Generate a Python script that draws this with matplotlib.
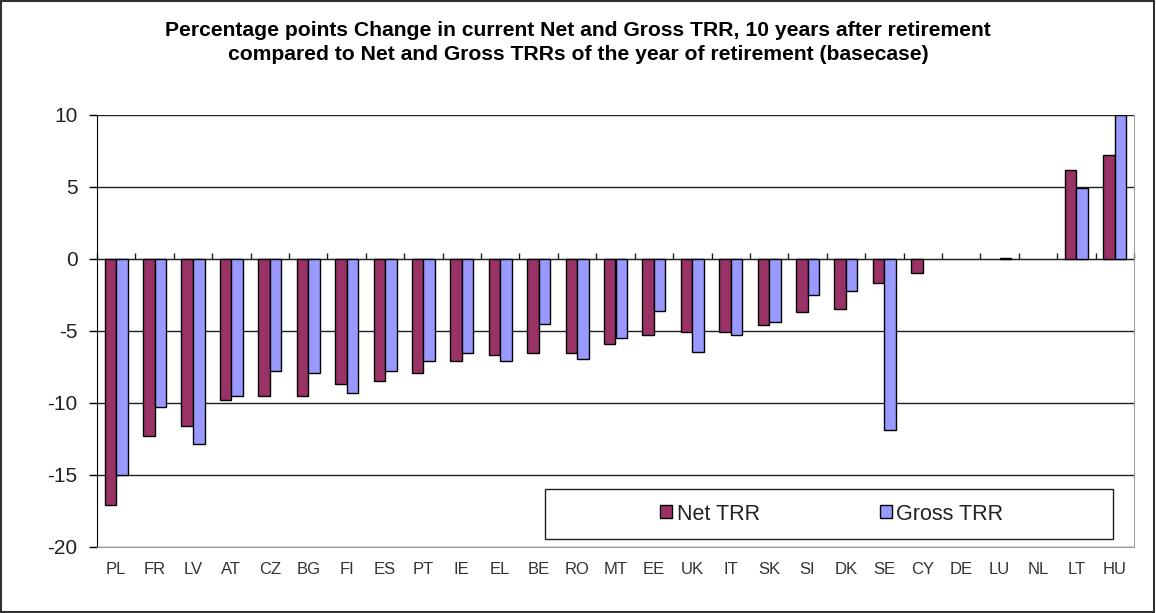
import numpy as np
import matplotlib
matplotlib.use("Agg")
import matplotlib.pyplot as plt
from matplotlib.patches import Rectangle, Patch

plt.rcParams['font.family'] = ['Liberation Sans', 'DejaVu Sans']
plt.rcParams['axes.unicode_minus'] = False

countries = ['PL', 'FR', 'LV', 'AT', 'CZ', 'BG', 'FI', 'ES', 'PT', 'IE', 'EL', 'BE', 'RO', 'MT',
             'EE', 'UK', 'IT', 'SK', 'SI', 'DK', 'SE', 'CY', 'DE', 'LU', 'NL', 'LT', 'HU']
net_trr = [-17.1, -12.3, -11.6, -9.8, -9.5, -9.5, -8.7, -8.5, -7.9, -7.1, -6.7, -6.5, -6.5, -5.9,
           -5.25, -5.05, -5.05, -4.6, -3.7, -3.45, -1.7, -1.0, 0.0, 0.0, 0.0, 6.2, 7.2]
gross_trr = [-15.0, -10.3, -12.85, -9.5, -7.8, -7.9, -9.3, -7.8, -7.05, -6.5, -7.05, -4.5, -6.95, -5.5,
             -3.6, -6.45, -5.25, -4.4, -2.5, -2.25, -11.9, 0.0, 0.0, 0.1, 0.0, 4.95, 10.0]

net_color = '#993366'
gross_color = '#9999FF'

fig = plt.figure(figsize=(11.56, 6.13), dpi=100)
ax = fig.add_axes([97/1156, 1-547/613, (1134-97)/1156, (547-115)/613])

x = np.arange(len(countries))
w = 0.3
# zero-valued bars get no outline so they don't show as a line
net_edges = ['black' if v != 0 else 'none' for v in net_trr]
gross_edges = ['black' if v != 0 else 'none' for v in gross_trr]
ax.bar(x - w/2, net_trr, w, color=net_color, edgecolor=net_edges, linewidth=1, zorder=3)
ax.bar(x + w/2, gross_trr, w, color=gross_color, edgecolor=gross_edges, linewidth=1, zorder=3)

ax.set_xlim(-0.5, len(countries) - 0.5)
ax.set_ylim(-20, 10)
ax.set_yticks(np.arange(-20, 11, 5))
ax.tick_params(axis='y', direction='out', length=6, width=1, labelsize=15,
               labelcolor='#222222', pad=8)
ax.yaxis.grid(True, color='#202020', linewidth=1, zorder=0)

# category labels below the plot area
ax.set_xticks(x)
ax.set_xticklabels(countries)
ax.tick_params(axis='x', length=0, labelsize=12, labelcolor='#333333', pad=11)

# horizontal axis line at zero with ticks between categories
sec = ax.secondary_xaxis(20/30)
sec.set_xticks(np.arange(len(countries) + 1) - 0.5)
sec.set_xticklabels([])
sec.tick_params(axis='x', direction='out', length=4, width=1, color='#202020')
sec.spines['bottom'].set_color('#202020')

ax.spines['top'].set_visible(False)
ax.spines['left'].set_color('black')
ax.spines['right'].set_color('#a0a0a0')
ax.spines['bottom'].set_color('#a0a0a0')

# legend
fig.patches.append(Rectangle((545/1156, 1-539/613), (1113-545)/1156, 50/613,
                             transform=fig.transFigure, fill=False,
                             edgecolor='#202020', linewidth=1))
handles = [Patch(facecolor=net_color, edgecolor='black', label='Net TRR'),
           Patch(facecolor=gross_color, edgecolor='black', label='Gross TRR')]
fig.legend(handles=handles, loc='center', bbox_to_anchor=(832/1156, 1-514/613),
           ncol=2, frameon=False, fontsize=15.5, handlelength=0.55, handleheight=0.55,
           handletextpad=0.2, columnspacing=5.6, labelcolor='#222222')

fig.text(0.5, 1-31/613,
         'Percentage points Change in current Net and Gross TRR, 10 years after retirement',
         ha='center', va='center', fontsize=15.2, fontweight='bold')
fig.text(0.5, 1-55/613,
         'compared to Net and Gross TRRs of the year of retirement (basecase)',
         ha='center', va='center', fontsize=15.2, fontweight='bold')

fig.patches.append(Rectangle((0.001, 0.001), 0.997, 0.997, transform=fig.transFigure,
                             fill=False, edgecolor='#303030', linewidth=1.5))

fig.savefig('out.png', dpi=100)
